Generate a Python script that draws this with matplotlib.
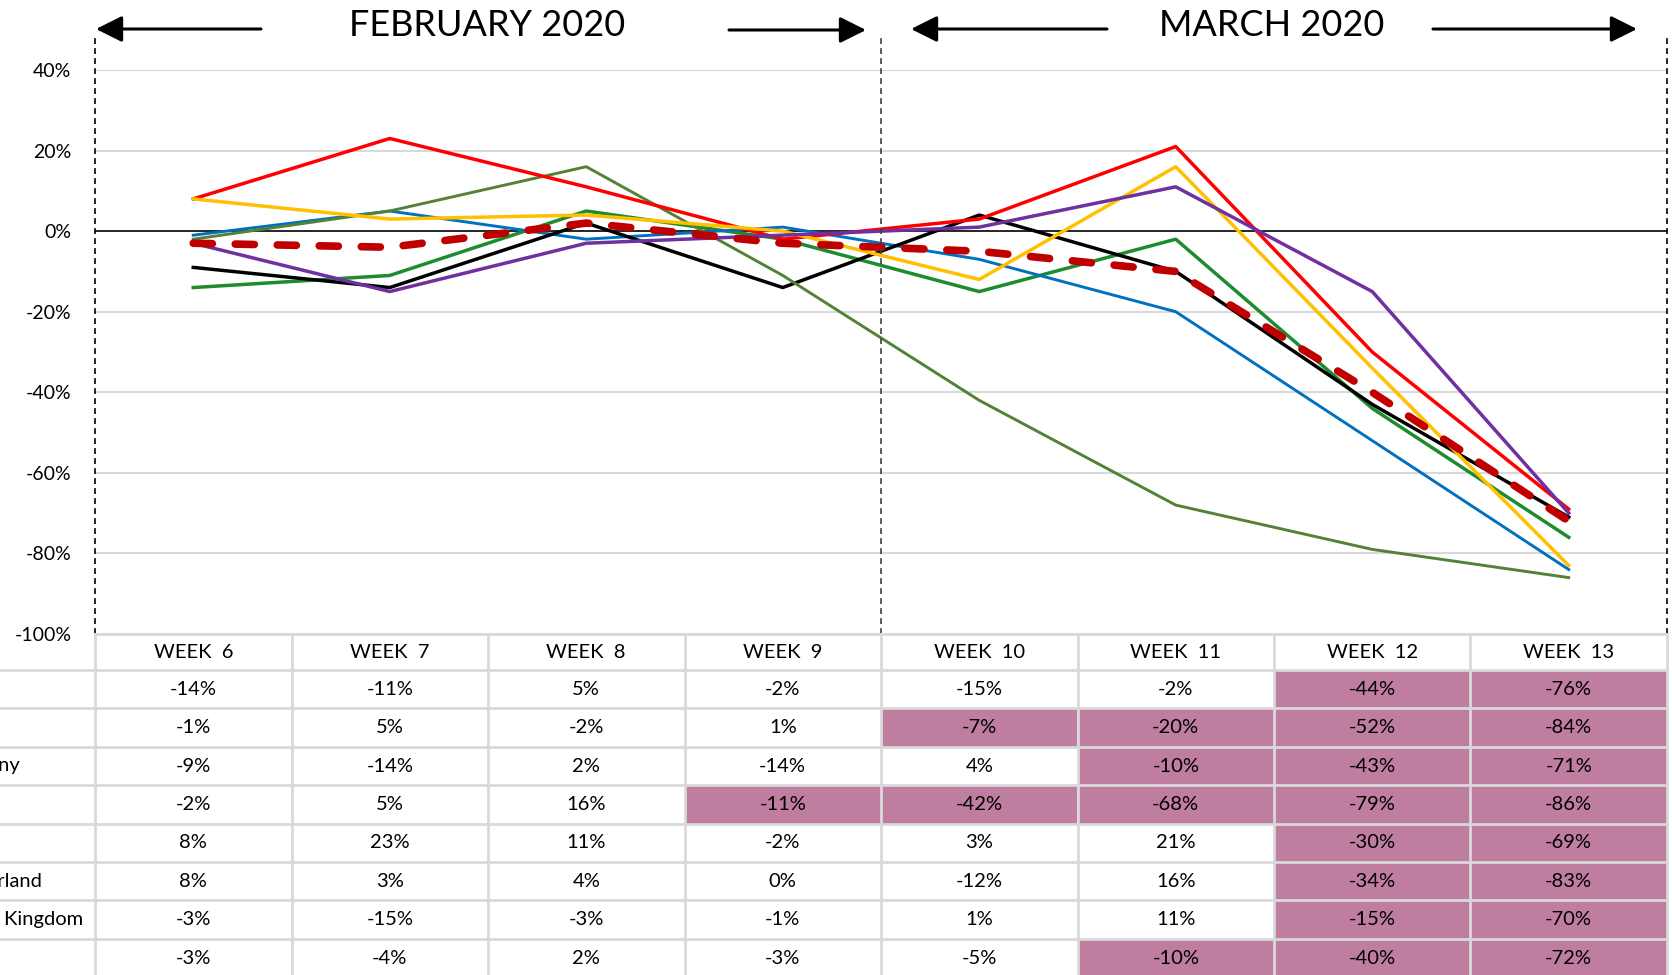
import matplotlib
matplotlib.use("Agg")
import matplotlib.pyplot as plt
from matplotlib.patches import Rectangle, FancyArrowPatch
import matplotlib.transforms as mtransforms

plt.rcParams['font.family'] = ['Lato', 'DejaVu Sans']

# ---------------- data ----------------
weeks = ["WEEK  6", "WEEK  7", "WEEK  8", "WEEK  9", "WEEK  10", "WEEK  11", "WEEK  12", "WEEK  13"]
countries = ["Spain", "Japan", "Germany", "Italy", "Chile", "Switzerland", "United Kingdom", "Total"]
row1 = [-14, -11, 5, -2, -15, -2, -44, -76]
row2 = [-1, 5, -2, 1, -7, -20, -52, -84]
row3 = [-9, -14, 2, -14, 4, -10, -43, -71]
row4 = [-2, 5, 16, -11, -42, -68, -79, -86]
row5 = [8, 23, 11, -2, 3, 21, -30, -69]
row6 = [8, 3, 4, 0, -12, 16, -34, -83]
row7 = [-3, -15, -3, -1, 1, 11, -15, -70]
row8 = [-3, -4, 2, -3, -5, -10, -40, -72]
rows = [row1, row2, row3, row4, row5, row6, row7, row8]
hl1 = [0, 0, 0, 0, 0, 0, 1, 1]
hl2 = [0, 0, 0, 0, 1, 1, 1, 1]
hl3 = [0, 0, 0, 0, 0, 1, 1, 1]
hl4 = [0, 0, 0, 1, 1, 1, 1, 1]
hl5 = [0, 0, 0, 0, 0, 0, 1, 1]
hl6 = [0, 0, 0, 0, 0, 0, 1, 1]
hl7 = [0, 0, 0, 0, 0, 0, 1, 1]
hl8 = [0, 0, 0, 0, 0, 1, 1, 1]
highlights = [hl1, hl2, hl3, hl4, hl5, hl6, hl7, hl8]
yticks = [-100, -80, -60, -40, -20, 0, 20, 40]
months = ["FEBRUARY 2020", "MARCH 2020"]

colors = ["#1E8C2E", "#0070C0", "#000000", "#538135", "#FF0000", "#FFC000", "#7030A0", "#C00000"]
widths = [2.5, 2.1, 2.5, 2.1, 2.5, 2.5, 2.5, 5.5]

W, H = 1672, 975
fig = plt.figure(figsize=(W / 100, H / 100), dpi=100)

# ---------------- main chart ----------------
L, R = 95, 1667
top_px, bot_px = 70, 634
ax = fig.add_axes([L / W, 1 - bot_px / H, (R - L) / W, (bot_px - top_px) / H])
x = list(range(len(weeks)))
ax.set_xlim(-0.5, 7.5)
ax.set_ylim(-100, 40)
for s in ax.spines.values():
    s.set_visible(False)
ax.set_xticks([])
ax.set_yticks(yticks)
ax.set_yticklabels([f"{v}%" for v in yticks], fontsize=14)
ax.tick_params(axis='y', length=0, pad=17)
for v in yticks:
    if v != 0:
        ax.axhline(v, color="#D9D9D9", lw=1.5, zorder=0)
ax.axhline(0, color="black", lw=1.2, zorder=1)

for i, (vals, c, lw) in enumerate(zip(rows, colors, widths)):
    if i == len(rows) - 1:
        ax.plot(x, vals, color=c, lw=lw, dashes=(2.5, 3.0), dash_capstyle='round',
                solid_capstyle='round', zorder=5)
    else:
        ax.plot(x, vals, color=c, lw=lw, zorder=3)

# dashed vertical separators
tr = mtransforms.blended_transform_factory(ax.transData, ax.transAxes)
ytop = (bot_px - 37) / (bot_px - top_px)
for xv, col in [(-0.5, "black"), (3.5, "#404040"), (7.5, "black")]:
    ax.plot([xv, xv], [0, ytop], transform=tr, color=col, lw=1.2,
            linestyle=(0, (3.5, 2.5)), clip_on=False, zorder=6)

# month headers with arrows
def arrow(x0, x1, y):
    fig.add_artist(FancyArrowPatch(
        (x0 / W, 1 - y / H), (x1 / W, 1 - y / H), transform=fig.transFigure,
        arrowstyle='-|>,head_length=0.8,head_width=0.4', mutation_scale=20,
        color='black', lw=2.2, shrinkA=0, shrinkB=0))

arrow(261, 96, 29)
arrow(729, 866, 30)
arrow(1107, 911, 29)
arrow(1433, 1637, 29)
fig.text(487 / W, 1 - 26 / H, months[0], ha='center', va='center', fontsize=26)
fig.text(1272 / W, 1 - 26 / H, months[1], ha='center', va='center', fontsize=26)

# ---------------- table ----------------
row_px = 38.4
hh = 36 / row_px
tab_bottom = bot_px + 36 + 8 * row_px
tab = fig.add_axes([L / W, 1 - tab_bottom / H, (R - L) / W, (tab_bottom - bot_px) / H])
tab.set_xlim(-0.5, 7.5)
tab.set_ylim(hh + 8, 0)
tab.axis('off')

fs_tab = 14.5
grid_c = "#D9D9D9"
for j, w in enumerate(weeks):
    tab.text(j, hh / 2 + 0.02, w, ha='center', va='center', fontsize=fs_tab)

for i, (vals, hl) in enumerate(zip(rows, highlights)):
    y0 = hh + i
    for j, v in enumerate(vals):
        if hl[j]:
            tab.add_patch(Rectangle((j - 0.5, y0), 1, 1, facecolor="#BF7D9F",
                                    edgecolor='none', zorder=1))
        tab.text(j, y0 + 0.5, f"{v}%", ha='center', va='center', fontsize=fs_tab, zorder=3)

# grid lines
for k in range(9):
    tab.plot([k - 0.5, k - 0.5], [0, hh + 8], color=grid_c, lw=2, clip_on=False, zorder=2)
tab.plot([-0.5, 7.5], [0, 0], color=grid_c, lw=2, clip_on=False, zorder=2)
trt = mtransforms.blended_transform_factory(fig.transFigure, tab.transData)
for i in range(9):
    tab.plot([0, R / W], [hh + i, hh + i], transform=trt, color=grid_c, lw=2,
             clip_on=False, zorder=2)

# row labels (partly cut off at the left edge of the figure, as in the original)
renderer = fig.canvas.get_renderer()
probe = fig.text(0, 0, countries[6], fontsize=fs_tab)
label_w = probe.get_window_extent(renderer).width
probe.remove()
x0 = 83 - label_w
for i, name in enumerate(countries):
    tab.text(x0 / W, hh + i + 0.5, name, transform=trt, ha='left', va='center',
             fontsize=fs_tab, clip_on=False)

fig.savefig("out.png", dpi=100)
